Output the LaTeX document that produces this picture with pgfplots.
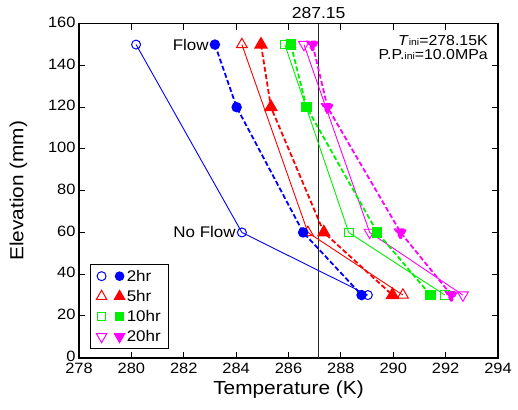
\documentclass[border=0pt]{standalone}
\usepackage{pgfplots}
\pgfplotsset{compat=1.18}
\usepackage{fontspec}
\setmainfont{Liberation Sans}[FakeStretch=1.1]
\definecolor{colB}{RGB}{0,0,255}
\definecolor{colR}{RGB}{255,0,0}
\definecolor{colG}{RGB}{0,240,0}
\definecolor{colM}{RGB}{255,0,255}
\begin{document}
\begin{tikzpicture}
\tikzset{
  nf/.style={line width=0.9bp, mark options={solid, fill=white, line width=1bp}},
  fl/.style={line width=1.8bp, dash pattern=on 5bp off 2.5bp, mark options={solid}},
}
\begin{axis}[
  at={(0,0)}, anchor=south west,
  scale only axis, width=419bp, height=334bp,
  xmin=278, xmax=294, ymin=0, ymax=160,
  clip=false,
  xtick={278,280,...,294}, ytick={0,20,...,160},
  /pgf/number format/assume math mode=true,
  /pgf/number format/.cd, fixed, precision=2, /pgfplots/.cd,
  tick label style={font=\fontsize{15}{17}\selectfont},
  xticklabel style={yshift=-2bp},
  yticklabel style={yshift=1.5bp},
  label style={font=\fontsize{19}{21}\selectfont},
  xlabel={Temperature (K)}, ylabel={Elevation (mm)},
  xlabel style={yshift=0bp}, ylabel style={yshift=14bp},
  axis line style={line width=1.6bp},
  major tick style={line width=1bp, black},
  major tick length=6bp,
  legend style={at={(0.026,0.026)}, anchor=south west, draw=black, line width=1bp,
    font=\fontsize{15.5}{17}\selectfont, inner xsep=6bp, inner ysep=3.5bp, row sep=3.5bp},
  legend cell align=left,
]
% reference line
\addplot[forget plot, black!85, line width=1.2bp] coordinates {(287.15,0) (287.15,160)};
% no flow (open, solid)
\addplot[forget plot, colB, nf, mark=o, mark size=4.5bp] coordinates {(280.18,150) (284.22,60) (289.03,30)};
\addplot[forget plot, colR, nf, mark=triangle, mark size=6.3bp] coordinates {(284.22,150) (286.74,60) (290.37,30)};
\addplot[forget plot, colG, nf, mark=square, mark size=4.3bp] coordinates {(285.86,150) (288.30,60) (291.97,30)};
\addplot[forget plot, colM, nf, mark=triangle, mark size=6.3bp, mark options={rotate=180}] coordinates {(286.59,150) (289.10,60) (292.66,30)};
% flow (filled, dashed)
\addplot[forget plot, colB, fl, mark=*, mark size=4.3bp] coordinates {(283.19,150) (284.02,120) (286.56,60) (288.79,30)};
\addplot[forget plot, colR, fl, mark=triangle*, mark size=6.3bp] coordinates {(284.95,150) (285.33,120) (287.35,60) (289.97,30)};
\addplot[forget plot, colG, fl, mark=square*, mark size=4.3bp] coordinates {(286.09,150) (286.69,120) (289.39,60) (291.42,30)};
\addplot[forget plot, colM, fl, mark=triangle*, mark size=6.3bp, mark options={rotate=180}] coordinates {(286.92,150) (287.49,120) (290.28,60) (292.22,30)};
% legend
\addlegendimage{legend image code/.code={
  \draw[colB, mark=o, mark size=4.5bp, mark options={fill=white, line width=1bp}] plot coordinates {(0bp,0bp)};
  \draw[colB, mark=*, mark size=4.3bp] plot coordinates {(18bp,0bp)};}}
\addlegendentry{2hr}
\addlegendimage{legend image code/.code={
  \draw[colR, mark=triangle, mark size=6bp, mark options={fill=white, line width=1bp}] plot coordinates {(0bp,0bp)};
  \draw[colR, mark=triangle*, mark size=6bp] plot coordinates {(18bp,0bp)};}}
\addlegendentry{5hr}
\addlegendimage{legend image code/.code={
  \draw[colG, mark=square, mark size=4.3bp, mark options={fill=white, line width=1bp}] plot coordinates {(0bp,0bp)};
  \draw[colG, mark=square*, mark size=4.3bp] plot coordinates {(18bp,0bp)};}}
\addlegendentry{10hr}
\addlegendimage{legend image code/.code={
  \draw[colM, mark=triangle, mark size=6bp, mark options={fill=white, line width=1bp, rotate=180}] plot coordinates {(0bp,0bp)};
  \draw[colM, mark=triangle*, mark size=6bp, mark options={rotate=180}] plot coordinates {(18bp,0bp)};}}
\addlegendentry{20hr}
% annotations
\node[anchor=east, font=\fontsize{15.5}{17}\selectfont, inner sep=0pt, xshift=-6bp] at (axis cs:283.19,150) {Flow};
\node[anchor=east, font=\fontsize{15.5}{17}\selectfont, inner sep=0pt, xshift=-6bp] at (axis cs:284.22,60) {No Flow};
\node[anchor=south, font=\fontsize{16}{17}\selectfont, inner sep=0pt, yshift=5bp] at (axis cs:287.15,160) {287.15};
\node[anchor=north east, align=right, font=\fontsize{14.5}{14}\selectfont, inner sep=0pt]
  at (rel axis cs:0.976,0.965) {\textit{T}{\fontsize{9.5}{9}\selectfont ini}=278.15K\\P.P.{\fontsize{9.5}{9}\selectfont ini}=10.0MPa};
\end{axis}
\path[use as bounding box] (-79bp,-52.3bp) rectangle (439bp,357.7bp);
\end{tikzpicture}
\end{document}
